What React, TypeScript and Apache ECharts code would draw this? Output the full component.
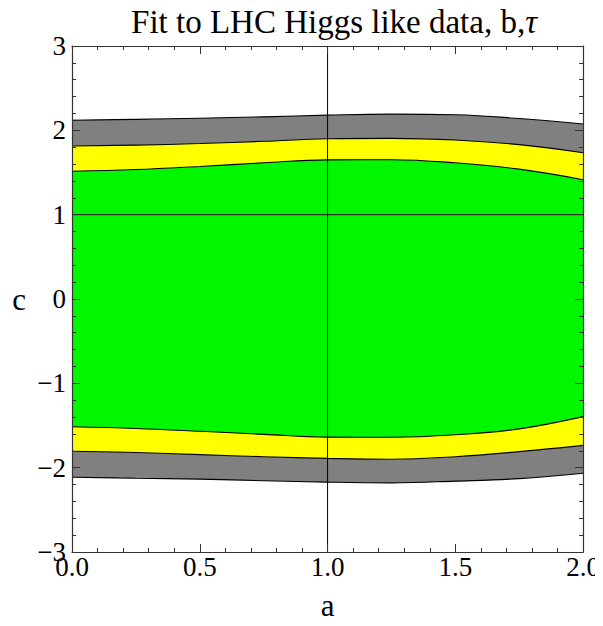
import React, { useEffect, useRef } from "react";
import * as echarts from "echarts";

const aValues = [0, 0.25, 0.5, 0.75, 1.0, 1.25, 1.5, 1.75, 2.0];
const grayTop = [2.12, 2.13, 2.144, 2.16, 2.18, 2.192, 2.185, 2.14, 2.075];
const yellowTop = [1.815, 1.825, 1.843, 1.87, 1.9, 1.905, 1.885, 1.83, 1.735];
const greenTop = [1.515, 1.535, 1.572, 1.615, 1.65, 1.652, 1.615, 1.54, 1.415];
const greenBot = [-1.515, -1.535, -1.568, -1.605, -1.638, -1.64, -1.61, -1.54, -1.395];
const yellowBot = [-1.806, -1.82, -1.845, -1.87, -1.89, -1.9, -1.87, -1.81, -1.736];
const grayBot = [-2.113, -2.125, -2.136, -2.155, -2.172, -2.18, -2.16, -2.13, -2.066];

const refLineC = 1;
const refLineA = 1;

const TITLE = "Fit to LHC Higgs like data, b,";
const SERIF = "Liberation Serif";

export default function App() {
  const ref = useRef<HTMLDivElement>(null);
  useEffect(() => {
    if (!ref.current) return;
    const chart = echarts.init(ref.current, null, { renderer: "svg" });
    const diff = (hi: number[], lo: number[]) => aValues.map((_, i) => hi[i] - lo[i]);
    const lineStyle = { color: "#000", width: 1.1 };
    const band = (name: string, data: number[], color: string) => ({
      name,
      type: "line",
      xAxisIndex: 2,
      stack: "bands",
      stackStrategy: "all",
      smooth: 0.4,
      symbol: "none",
      data,
      lineStyle,
      areaStyle: { color, opacity: 1 },
      z: 2,
    });
    const frameAxisLine = { show: true, onZero: false, lineStyle: { color: "#333", width: 1.2 } };
    const commonTick = { show: true, inside: true, length: 8, lineStyle: { color: "#333", width: 1 } };
    const minorTick = { show: true, splitNumber: 5, length: 4, lineStyle: { color: "#333", width: 1 } };
    chart.setOption({
      animation: false,
      backgroundColor: "#fff",
      title: {
        text: "{n|" + TITLE + "}{i|τ}",
        left: 329,
        top: 0,
        textAlign: "center",
        textStyle: {
          fontWeight: "normal",
          rich: {
            n: { fontFamily: SERIF, fontSize: 33, fontWeight: "normal", color: "#000" },
            i: { fontFamily: SERIF, fontSize: 33, fontWeight: "normal", fontStyle: "italic", color: "#000" },
          },
        },
      },
      grid: { left: 72, right: 17, top: 46, bottom: 66 },
      xAxis: [
        {
          type: "value",
          min: 0,
          max: 2,
          interval: 0.5,
          position: "bottom",
          name: "a",
          nameLocation: "middle",
          nameGap: 38,
          nameTextStyle: { fontFamily: SERIF, fontSize: 31, color: "#000" },
          axisLine: frameAxisLine,
          axisTick: commonTick,
          minorTick,
          splitLine: { show: false },
          z: 10,
          axisLabel: {
            fontFamily: SERIF,
            fontSize: 27,
            color: "#000",
            margin: 1,
            hideOverlap: false,
            formatter: (v: number) => v.toFixed(1),
          },
        },
        {
          type: "value",
          min: 0,
          max: 2,
          interval: 0.5,
          position: "top",
          axisLine: frameAxisLine,
          axisTick: commonTick,
          minorTick,
          splitLine: { show: false },
          axisLabel: { show: false },
          z: 10,
        },
        {
          type: "category",
          data: aValues.map(String),
          boundaryGap: false,
          show: false,
        },
      ],
      yAxis: [
        {
          type: "value",
          min: -3,
          max: 3,
          interval: 1,
          position: "left",
          name: "c",
          nameLocation: "middle",
          nameRotate: 0,
          nameGap: 46,
          nameTextStyle: { fontFamily: SERIF, fontSize: 31, color: "#000" },
          axisLine: frameAxisLine,
          axisTick: commonTick,
          minorTick,
          splitLine: { show: false },
          z: 10,
          axisLabel: {
            fontFamily: SERIF,
            fontSize: 27,
            color: "#000",
            margin: 6,
            formatter: (v: number) => (v < 0 ? "\u2212" + Math.abs(v) : String(v)),
          },
        },
        {
          type: "value",
          min: -3,
          max: 3,
          interval: 1,
          position: "right",
          axisLine: frameAxisLine,
          axisTick: commonTick,
          minorTick,
          splitLine: { show: false },
          axisLabel: { show: false },
          z: 10,
        },
      ],
      series: [
        {
          name: "base",
          type: "line",
          xAxisIndex: 2,
          stack: "bands",
          stackStrategy: "all",
          smooth: 0.4,
          symbol: "none",
          data: grayBot,
          lineStyle,
          z: 2,
        },
        band("gray-low", diff(yellowBot, grayBot), "#808080"),
        band("yellow-low", diff(greenBot, yellowBot), "#ffff00"),
        band("green", diff(greenTop, greenBot), "#00f700"),
        band("yellow-high", diff(yellowTop, greenTop), "#ffff00"),
        band("gray-high", diff(grayTop, yellowTop), "#808080"),
        {
          name: "hline",
          type: "line",
          symbol: "none",
          data: [
            [0, refLineC],
            [2, refLineC],
          ],
          lineStyle: { color: "#000", width: 1 },
          z: 5,
        },
        {
          name: "vline",
          type: "line",
          symbol: "none",
          data: [
            [refLineA, -3],
            [refLineA, 3],
          ],
          lineStyle: { color: "#000", width: 1 },
          z: 5,
        },
      ],
    });
    return () => chart.dispose();
  }, []);
  return <div ref={ref} style={{ width: 603, height: 626, margin: -8 }} />;
}
